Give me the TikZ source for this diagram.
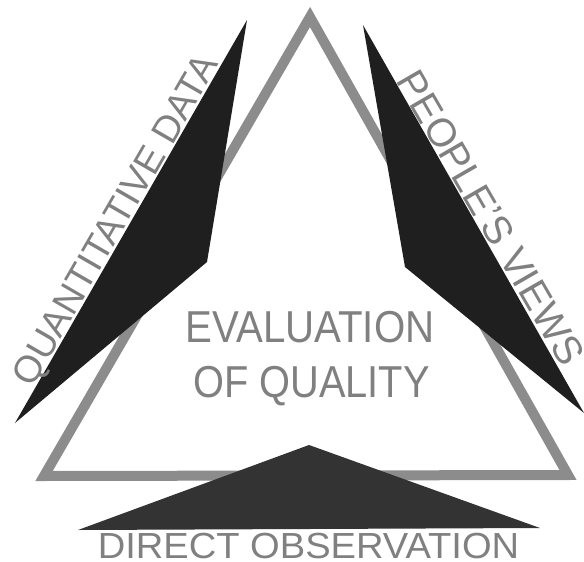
\documentclass[tikz,border=0pt]{standalone}
\usepackage{fontspec}
\setmainfont{Liberation Sans}
\usepackage{graphicx}
\begin{document}
\begin{tikzpicture}[x=1pt,y=-1pt,
  band/.style={draw=black!45, line width=10pt, line join=miter},
  wedge/.style={fill=black!88, draw=none},
  lowwedge/.style={fill=black!80, draw=none},
  lbl/.style={text=black!50, inner sep=0pt, anchor=base}]
\useasboundingbox (0,0) rectangle (584,562);
% big triangle outline
\coordinate (A) at (310,17);
\coordinate (BL) at (44,476);
\coordinate (BR) at (568,475);
\draw[band] (A) -- (BL) -- (BR) -- cycle;
% left wedge
\coordinate (q1) at (247,20);
\coordinate (q2) at (207,262);
\coordinate (q3) at (15,423);
\fill[wedge] (q1) -- (q2) -- (q3) -- cycle;
% right wedge
\coordinate (p1) at (363,25);
\coordinate (p2) at (405,267);
\coordinate (p3) at (584,413);
\fill[wedge] (p1) -- (p2) -- (p3) -- cycle;
% bottom wedge
\coordinate (d1) at (309,445);
\coordinate (d2) at (540,528);
\coordinate (d3) at (78,530);
\fill[lowwedge] (d1) -- (d2) -- (d3) -- cycle;
% labels
\node[lbl, rotate=60, font=\fontsize{37.7}{40}\selectfont] (quant) at (126,226) {QUANTITATIVE DATA};
\node[lbl, rotate=-60, font=\fontsize{39.7}{42}\selectfont] (people) at (479,224.6) {PEOPLE'S VIEWS};
\node[lbl, font=\fontsize{44.7}{46}\selectfont] (eval) at (310,342) {\scalebox{0.9}[1]{EVALUATION}};
\node[lbl, font=\fontsize{44.7}{46}\selectfont] (ofq) at (311.5,397) {\scalebox{0.89}[1]{OF QUALITY}};
\node[lbl, font=\fontsize{36.3}{38}\selectfont] (direct) at (308.5,558) {\scalebox{1.05}[1]{DIRECT OBSERVATION}};
\end{tikzpicture}
\end{document}
